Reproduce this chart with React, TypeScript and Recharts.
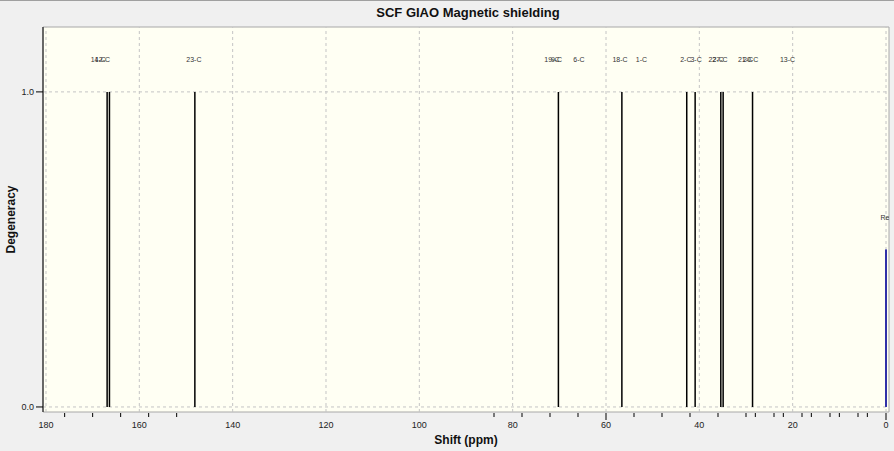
import { ComposedChart, XAxis, YAxis, ReferenceLine, ReferenceArea, Scatter } from 'recharts';

// carbon shifts (ppm) and degeneracy of each computed peak
const PEAK_SHIFTS = [166.9, 166.4, 148.1, 70.2, 56.6, 42.7, 40.9, 35.4, 34.9, 28.6];
const PEAK_DEGENERACY = [1, 1, 1, 1, 1, 1, 1, 1, 1, 1];

// reference marker
const REF_SHIFTS = [0];
const REF_DEGENERACY = [0.5];

// peak annotations as GaussView places them
const LABEL_NAMES = ['14-C', '12-C', '23-C', '19-C', '9-C', '6-C', '18-C', '1-C', '2-C', '3-C', '22-C', '27-C', '21-C', '20-C', '13-C', 'Ref'];
const LABEL_SHIFTS = [168.8, 167.9, 148.3, 71.6, 70.6, 65.8, 57.0, 52.4, 42.9, 40.7, 36.4, 35.6, 30.1, 29.0, 21.1, 0];
const LABEL_DEGENERACY = [1, 1, 1, 1, 1, 1, 1, 1, 1, 1, 1, 1, 1, 1, 1, 0.5];

const X_DOMAIN = [-0.64, 180.64];
const Y_DOMAIN = [-0.016, 1.206];
const X_LABEL_TICKS = [180, 160, 140, 120, 100, 80, 60, 40, 20, 0];
const X_MINOR_TICKS = [176, 170, 164, 158, 152, 84, 78, 72, 66, 54, 48, 42, 36, 30, 28, 24, 22, 18, 16, 12, 10, 6, 4];
const X_MAJOR_TICKS = [60, 0];
const Y_TICKS = [0, 1];

const FONT = '"Liberation Sans", Arial, sans-serif';

const ALL_X_TICKS = Array.from(new Set([...X_LABEL_TICKS, ...X_MINOR_TICKS, ...X_MAJOR_TICKS])).sort((a, b) => b - a);

const XTick = ({ x, y, payload }: any) => {
  const v = payload.value;
  const major = X_MAJOR_TICKS.includes(v);
  const minor = X_MINOR_TICKS.includes(v);
  return (
    <g>
      {(major || minor) && (
        <line x1={x} x2={x} y1={y + 1} y2={y + (major ? 8 : 5)} stroke="#000" strokeWidth={1} />
      )}
      {X_LABEL_TICKS.includes(v) && (
        <text x={x} y={y + 14} textAnchor="middle" dominantBaseline="middle" fontSize={9} fill="#222" fontFamily={FONT}>
          {v}
        </text>
      )}
    </g>
  );
};

const XTitle = ({ viewBox }: any) => {
  const vb = viewBox || { x: 43, y: 412, width: 846, height: 39 };
  return (
    <text x={vb.x + vb.width / 2} y={vb.y + 29} textAnchor="middle" dominantBaseline="middle" fontSize={12} fontWeight="bold" fill="#111" fontFamily={FONT}>
      Shift (ppm)
    </text>
  );
};

const YTitle = ({ viewBox }: any) => {
  const vb = viewBox || { x: 0, y: 27, width: 43, height: 385 };
  const cx = vb.x + 12;
  const cy = vb.y + vb.height / 2;
  return (
    <text x={cx} y={cy} transform={`rotate(-90, ${cx}, ${cy})`} textAnchor="middle" dominantBaseline="middle" fontSize={12} fontWeight="bold" fill="#111" fontFamily={FONT}>
      Degeneracy
    </text>
  );
};

const PeakLabel = (p: any) => (
  <text x={p.cx} y={p.cy} textAnchor="middle" dominantBaseline="middle" fontSize={7} fill="#333" fontFamily={FONT}>
    {p.payload.name}
  </text>
);

export default function App() {
  const labelData = LABEL_NAMES.map((name, i) => ({ x: LABEL_SHIFTS[i], y: LABEL_DEGENERACY[i] + 0.1, name }));

  return (
    <div
      style={{
        position: 'absolute',
        left: 0,
        top: 0,
        width: 894,
        height: 451,
        background: '#f0f0f0',
        boxShadow: 'inset 0 1px 0 #a0a0a0',
        fontFamily: FONT,
      }}
    >
      <div
        style={{
          position: 'absolute',
          left: 47,
          width: 842,
          top: 6,
          textAlign: 'center',
          fontSize: 13,
          lineHeight: '14px',
          fontWeight: 'bold',
          color: '#111',
        }}
      >
        SCF GIAO Magnetic shielding
      </div>
      <ComposedChart width={894} height={451} margin={{ top: 27, right: 5, bottom: 0, left: 0 }} style={{ position: 'absolute', left: 0, top: 0 }}>
        <XAxis
          xAxisId="x"
          type="number"
          dataKey="x"
          domain={X_DOMAIN}
          reversed
          allowDataOverflow
          ticks={ALL_X_TICKS}
          interval={0}
          tickSize={0}
          tickMargin={0}
          tickLine={false}
          axisLine={false}
          tick={<XTick />}
          height={39}
          label={<XTitle />}
        />
        <YAxis
          yAxisId="y"
          type="number"
          dataKey="y"
          domain={Y_DOMAIN}
          allowDataOverflow
          ticks={Y_TICKS}
          width={43}
          tickSize={7}
          tickMargin={2}
          tickFormatter={(v: number) => v.toFixed(1)}
          axisLine={{ stroke: '#000' }}
          tickLine={{ stroke: '#000' }}
          tick={{ fontSize: 9, fill: '#222', fontFamily: FONT }}
          label={<YTitle />}
        />
        <ReferenceArea
          xAxisId="x"
          yAxisId="y"
          x1={X_DOMAIN[0]}
          x2={X_DOMAIN[1]}
          y1={Y_DOMAIN[0]}
          y2={Y_DOMAIN[1]}
          fill="#fffff3"
          fillOpacity={1}
          stroke="#a8a8a8"
          strokeWidth={1}
        />
        {X_LABEL_TICKS.map((v) => (
          <ReferenceLine key={`gx${v}`} xAxisId="x" yAxisId="y" x={v} stroke="#c4c4c4" strokeDasharray="3 3" />
        ))}
        {Y_TICKS.map((v) => (
          <ReferenceLine key={`gy${v}`} xAxisId="x" yAxisId="y" y={v} stroke="#c4c4c4" strokeDasharray="3 3" />
        ))}
        {PEAK_SHIFTS.map((s, i) => (
          <ReferenceLine
            key={`p${i}`}
            xAxisId="x"
            yAxisId="y"
            segment={[{ x: s, y: 0 }, { x: s, y: PEAK_DEGENERACY[i] }]}
            stroke="#000"
            strokeWidth={1.5}
          />
        ))}
        {REF_SHIFTS.map((s, i) => (
          <ReferenceLine
            key={`r${i}`}
            xAxisId="x"
            yAxisId="y"
            segment={[{ x: s, y: 0 }, { x: s, y: REF_DEGENERACY[i] }]}
            stroke="#3030a8"
            strokeWidth={2}
          />
        ))}
        <Scatter xAxisId="x" yAxisId="y" data={labelData} dataKey="y" shape={<PeakLabel />} isAnimationActive={false} />
      </ComposedChart>
    </div>
  );
}
